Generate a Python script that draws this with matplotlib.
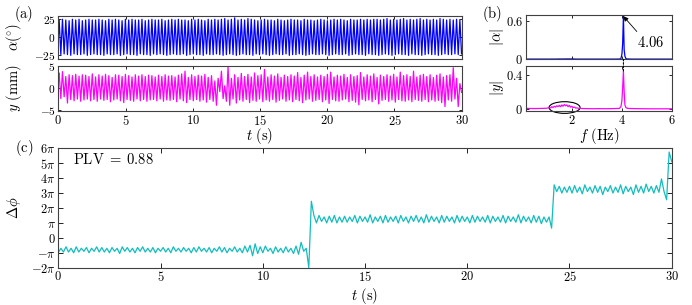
import matplotlib
matplotlib.use("Agg")
import matplotlib.pyplot as plt
import numpy as np
from matplotlib.patches import Ellipse, ConnectionPatch
from matplotlib.ticker import FuncFormatter

plt.rcParams['mathtext.fontset'] = 'cm'
plt.rcParams['font.family'] = ['DejaVu Serif']
plt.rcParams['font.size'] = 9

# ---- data ----
f_peak = 4.06  # Hz, dominant frequency

# (a) pitch angle alpha (deg): one peak and one trough per cycle
alpha_peaks = [24, 25, 24, 23, 25, 24, 25, 23, 24, 25, 24, 24,
               25, 24, 23, 25, 24, 25, 24, 23, 25, 24, 25, 24,
               24, 25, 23, 24, 25, 24, 24, 25, 23, 24, 25, 24,
               25, 24, 24, 23, 25, 24, 25, 24, 23, 25, 24, 25,
               24, 25, 26, 24, 25, 27, 24, 25, 24, 26, 25, 24,
               23, 24, 25, 24, 24, 23, 25, 24, 23, 24, 25, 24,
               24, 23, 25, 24, 24, 23, 24, 25, 24, 23, 24, 25,
               24, 25, 24, 23, 25, 24, 24, 25, 24, 25, 24, 25,
               25, 24, 25, 26, 24, 25, 24, 25, 26, 24, 25, 24,
               25, 26, 24, 25, 24, 25, 24, 26, 25, 24, 25, 24,
               25, 24]
alpha_troughs = [-24, -23, -24, -25, -23, -24, -24, -23, -25, -24, -23, -24,
                 -24, -25, -23, -24, -24, -23, -25, -24, -23, -24, -24, -25,
                 -23, -24, -24, -25, -23, -24, -23, -24, -25, -24, -23, -24,
                 -24, -23, -25, -24, -23, -24, -24, -25, -23, -24, -24, -23,
                 -24, -25, -24, -23, -24, -25, -24, -23, -24, -24, -25, -23,
                 -24, -23, -24, -25, -24, -23, -24, -24, -23, -25, -24, -24,
                 -23, -24, -25, -24, -23, -24, -24, -23, -24, -25, -24, -23,
                 -24, -24, -23, -25, -24, -23, -24, -24, -25, -23, -24, -24,
                 -25, -24, -23, -24, -25, -24, -23, -24, -24, -25, -23, -24,
                 -24, -25, -24, -23, -24, -24, -25, -24, -23, -24, -24, -23,
                 -24, -23]

# (a) heave y (mm)
y_peaks = [3.4, 3.7, 2.6, 3.0, 2.8, 3.1, 2.7, 3.0, 2.9, 2.6,
           3.2, 2.5, 3.0, 2.7, 3.1, 2.8, 2.4, 3.0, 2.9, 2.6,
           3.1, 2.8, 2.5, 3.0, 2.7, 3.0, 2.6, 2.9, 2.8, 2.5,
           2.9, 2.6, 3.0, 2.7, 2.8, 2.5, 2.9, 3.2, 3.8, 2.4,
           3.0, 2.6, 2.9, 2.7, 3.1, 2.4, 2.8, 1.6, 2.2, 3.8,
           0.5, 4.8, 2.2, 3.0, 2.4, 3.3, 2.6, 3.1, 2.5, 3.4,
           2.8, 3.0, 4.2, 2.5, 3.0, 2.7, 3.2, 2.4, 2.9, 2.6,
           3.0, 2.7, 3.5, 2.4, 2.9, 3.6, 2.6, 3.0, 2.5, 2.9,
           2.6, 3.1, 3.6, 2.5, 2.9, 2.7, 3.1, 2.4, 3.0, 2.6,
           2.8, 3.5, 2.5, 3.0, 2.7, 3.2, 2.4, 2.9, 2.6, 3.0,
           2.7, 3.1, 2.5, 3.6, 2.8, 3.0, 2.6, 3.8, 2.5, 2.9,
           3.1, 2.6, 3.0, 2.4, 2.9, 3.2, 2.5, 2.8, 3.0, 4.6,
           2.2, 1.0]
y_troughs = [-2.4, -2.0, -3.4, -2.6, -2.9, -2.5, -3.0, -2.7, -2.5, -2.9,
             -2.6, -3.0, -2.5, -2.8, -2.6, -3.1, -2.7, -2.5, -2.9, -3.3,
             -2.6, -2.8, -3.0, -2.5, -2.9, -2.6, -3.0, -2.7, -2.6, -2.9,
             -2.5, -3.0, -2.7, -2.8, -2.6, -3.1, -2.5, -2.9, -3.3, -2.6,
             -2.9, -2.6, -3.0, -2.7, -3.2, -2.6, -3.0, -3.9, -0.8, -2.4,
             -3.0, -3.9, -2.5, -3.4, -2.7, -3.0, -2.6, -3.3, -2.8, -3.0,
             -2.5, -3.1, -2.7, -3.0, -2.6, -3.2, -2.8, -2.5, -3.0, -2.7,
             -3.1, -2.6, -2.9, -3.3, -2.7, -2.5, -3.0, -2.8, -2.6, -3.1,
             -2.7, -3.5, -2.6, -2.9, -3.0, -2.7, -2.5, -3.1, -2.8, -3.2,
             -3.8, -2.6, -2.9, -2.7, -3.1, -2.6, -3.6, -2.8, -2.6, -3.0,
             -2.7, -3.2, -2.6, -2.9, -3.0, -2.7, -3.1, -2.6, -2.8, -3.0,
             -2.6, -3.1, -2.7, -3.0, -2.8, -3.3, -4.2, -2.7, -3.0, -2.5,
             -4.2, -1.0]

# (b) amplitude spectra
freq = [0.2, 0.5, 0.8, 1.0, 1.1, 1.15, 1.2, 1.25, 1.3, 1.35, 1.4, 1.45,
        1.5, 1.55, 1.6, 1.65, 1.7, 1.75, 1.8, 1.85, 1.9, 1.95, 2.0, 2.05,
        2.1, 2.15, 2.2, 2.3, 2.5, 2.8, 3.1, 3.4, 3.7, 3.9, 3.96, 4.0,
        4.03, 4.06, 4.09, 4.12, 4.16, 4.22, 4.4, 4.8, 5.2, 5.6, 6.0]
alpha_amp = [0.003, 0.003, 0.003, 0.003, 0.003, 0.003, 0.004, 0.003, 0.004, 0.003, 0.004, 0.004,
             0.005, 0.004, 0.005, 0.004, 0.005, 0.005, 0.006, 0.005, 0.006, 0.005, 0.006, 0.005,
             0.004, 0.004, 0.003, 0.003, 0.003, 0.003, 0.003, 0.003, 0.003, 0.004, 0.01, 0.08,
             0.25, 0.68, 0.15, 0.05, 0.01, 0.005, 0.003, 0.003, 0.003, 0.003, 0.003]
y_amp = [0.01, 0.008, 0.01, 0.012, 0.02, 0.015, 0.03, 0.02, 0.035, 0.025, 0.04, 0.03,
         0.045, 0.03, 0.05, 0.035, 0.055, 0.04, 0.05, 0.03, 0.045, 0.025, 0.035, 0.02,
         0.025, 0.015, 0.015, 0.01, 0.008, 0.006, 0.007, 0.006, 0.008, 0.01, 0.03, 0.1,
         0.25, 0.44, 0.2, 0.05, 0.02, 0.01, 0.008, 0.006, 0.005, 0.005, 0.005]

# (c) phase difference, in units of pi, sampled every 0.125 s
dphi = [-0.98, -0.7, -0.95, -0.6, -0.95, -0.7, -1.0, -0.6,
        -0.95, -0.7, -0.9, -0.65, -1.0, -0.7, -0.9, -0.6,
        -0.95, -0.65, -0.95, -0.7, -1.0, -0.65, -0.9, -0.7,
        -1.05, -0.6, -0.9, -0.65, -0.95, -0.7, -1.0, -0.65,
        -0.9, -0.6, -0.95, -0.7, -0.95, -0.65, -1.0, -0.7,
        -0.9, -0.65, -0.95, -0.7, -1.0, -0.6, -0.9, -0.7,
        -0.95, -0.65, -0.9, -0.7, -1.0, -0.65, -0.95, -0.6,
        -0.9, -0.7, -0.95, -0.65, -1.0, -0.7, -0.9, -0.6,
        -0.95, -0.65, -1.0, -0.7, -0.9, -0.6, -0.95, -0.7,
        -1.0, -0.55, -0.95, -0.5, -1.2, -0.4, -1.05, -0.6,
        -1.0, -0.55, -0.9, -0.7, -1.05, -0.6, -0.95, -0.7,
        -1.0, -0.6, -0.95, -0.7, -1.05, -0.55, -1.1, -0.3,
        -0.9, -0.7, -2.0, 2.45, 1.5, 1.0, 1.5, 1.1,
        1.4, 1.0, 1.45, 1.05, 1.5, 1.0, 1.4, 1.05,
        1.45, 1.05, 1.4, 1.1, 1.5, 1.0, 1.45, 1.1,
        1.4, 1.05, 1.55, 1.0, 1.4, 1.1, 1.45, 1.0,
        1.5, 1.05, 1.4, 1.1, 1.45, 1.0, 1.5, 1.1,
        1.4, 1.0, 1.45, 1.1, 1.5, 1.05, 1.4, 1.0,
        1.55, 1.05, 1.45, 1.1, 1.4, 1.0, 1.5, 1.05,
        1.45, 1.1, 1.4, 1.0, 1.5, 1.05, 1.45, 1.1,
        1.4, 1.0, 1.5, 1.05, 1.45, 1.1, 1.4, 1.05,
        1.5, 1.0, 1.45, 1.1, 1.4, 1.05, 1.5, 1.0,
        1.45, 1.1, 1.4, 1.05, 1.55, 1.0, 1.45, 1.1,
        1.4, 1.0, 1.5, 1.05, 1.45, 0.95, 1.4, 1.05,
        1.4, 0.65, 3.55, 3.1, 3.45, 3.0, 3.4, 3.05,
        3.45, 3.0, 3.5, 3.05, 3.4, 2.95, 3.55, 3.1,
        3.4, 3.0, 3.5, 3.05, 3.45, 2.9, 3.4, 3.1,
        3.5, 3.0, 3.4, 3.05, 3.55, 2.95, 3.45, 3.1,
        3.4, 2.9, 3.55, 3.05, 3.45, 3.0, 3.6, 3.1,
        3.45, 3.0, 3.5, 3.05, 3.95, 3.1, 2.55, 5.75,
        5.1]
plv = 0.88


def zigzag(peaks, troughs, start):
    vals = [start]
    for p, q in zip(peaks, troughs):
        vals += [p, q]
    t = np.arange(len(vals)) / (2 * f_peak) - 0.25 / f_peak
    t[0] = 0
    return t, np.array(vals)


t_a, alpha = zigzag(alpha_peaks, alpha_troughs, 0)
t_y, yy = zigzag(y_peaks, y_troughs, 3.0)
t_c = np.arange(len(dphi)) * 0.125

frame = '#404040'
tick_fs = 9
small_fs = 8.2  # y tick labels of the stacked small panels
lab_fs = 10.5
fig = plt.figure(figsize=(6.92, 3.05), dpi=100)

def style(ax, tl=2.5, yfs=tick_fs):
    for s in ax.spines.values():
        s.set_color(frame)
        s.set_linewidth(0.8)
    ax.tick_params(direction='in', top=True, right=True, length=tl, width=0.6,
                   colors='k', labelsize=tick_fs, pad=2)
    ax.tick_params(axis='y', labelsize=yfs)

mfmt = FuncFormatter(lambda v, p: f'${v:g}$')

# (a)
ax1 = fig.add_axes([0.0843, 0.8056, 0.5829, 0.1430])
ax1.plot(t_a, alpha, color='#0000ff', lw=0.9)
ax1.set_xlim(0, 30)
ax1.set_ylim(-30.5, 30)
ax1.set_xticks(range(0, 31, 5))
ax1.set_xticklabels([])
ax1.set_yticks([-25, 0, 25])
ax1.yaxis.set_major_formatter(mfmt)
ax1.set_ylabel(r'$\alpha(^{\circ})$', fontsize=lab_fs)
ax1.yaxis.set_label_coords(-0.085, 0.5)
style(ax1, yfs=small_fs)

ax2 = fig.add_axes([0.0843, 0.6361, 0.5829, 0.1485])
ax2.plot(t_y, yy, color='#ff00ff', lw=0.9)
ax2.set_xlim(0, 30)
ax2.set_ylim(-5.2, 5.05)
ax2.set_xticks(range(0, 31, 5))
ax2.set_yticks([-5, 0, 5])
ax2.xaxis.set_major_formatter(mfmt)
ax2.yaxis.set_major_formatter(mfmt)
ax2.set_ylabel(r'$y\ \mathrm{(mm)}$', fontsize=lab_fs)
ax2.yaxis.set_label_coords(-0.085, 0.5)
ax2.set_xlabel(r'$t\ \mathrm{(s)}$', fontsize=lab_fs)
ax2.xaxis.set_label_coords(0.5, -0.34)
style(ax2, yfs=small_fs)

# (b)
bx1 = fig.add_axes([0.7601, 0.8056, 0.2110, 0.1452])
bx1.plot(freq, alpha_amp, color='#0000ff', lw=0.9)
bx1.set_xlim(0.17, 6)
bx1.set_ylim(0, 0.7)
bx1.set_xticks([2, 4, 6])
bx1.set_xticklabels([])
bx1.set_yticks([0, 0.6])
bx1.yaxis.set_major_formatter(mfmt)
bx1.set_ylabel(r'$|\alpha|$', fontsize=lab_fs)
bx1.yaxis.set_label_coords(-0.14, 0.5)
bx1.annotate(r'$4.06$', xy=(f_peak, 0.68), xytext=(4.62, 0.26), fontsize=lab_fs,
             va='center', ha='left',
             arrowprops=dict(arrowstyle='-|>', color='k', lw=0.6,
                             mutation_scale=7, shrinkA=1, shrinkB=0,
                             relpos=(0.1, 1.0)))
style(bx1)

bx2 = fig.add_axes([0.7601, 0.6361, 0.2110, 0.1475])
bx2.plot(freq, y_amp, color='#ff00ff', lw=0.9)
bx2.set_xlim(0.17, 6)
bx2.set_ylim(-0.02, 0.5)
bx2.set_xticks([2, 4, 6])
bx2.set_yticks([0, 0.4])
bx2.xaxis.set_major_formatter(mfmt)
bx2.yaxis.set_major_formatter(mfmt)
bx2.set_ylabel(r'$|y|$', fontsize=lab_fs)
bx2.yaxis.set_label_coords(-0.14, 0.5)
bx2.set_xlabel(r'$f\ \mathrm{(Hz)}$', fontsize=lab_fs)
bx2.xaxis.set_label_coords(0.5, -0.34)
bx2.add_patch(Ellipse((1.71, 0.02), 1.24, 0.135, fill=False, ec='k', lw=0.8,
                      clip_on=False))
style(bx2)

con = ConnectionPatch(xyA=(f_peak, 0), coordsA=bx1.transData,
                      xyB=(f_peak, max(y_amp)), coordsB=bx2.transData,
                      color='k', lw=0.8, linestyle=(0, (1.5, 1.5)))
fig.add_artist(con)

# (c)
cx = fig.add_axes([0.0843, 0.1223, 0.8864, 0.3915])
cx.plot(t_c, np.array(dphi) * np.pi, color='#13bdbd', lw=0.9)
cx.set_xlim(0, 30)
cx.set_ylim(-2 * np.pi, 6 * np.pi)
cx.set_xticks(range(0, 31, 5))
cx.xaxis.set_major_formatter(mfmt)
pi_ticks = list(range(-2, 7))
pi_labels = {-2: r'$-2\pi$', -1: r'$-\pi$', 0: r'$0$', 1: r'$\pi$'}
cx.set_yticks([k * np.pi for k in pi_ticks])
cx.set_yticklabels([pi_labels.get(k, rf'${k}\pi$') for k in pi_ticks])
cx.set_ylabel(r'$\Delta\phi$', fontsize=lab_fs)
cx.yaxis.set_label_coords(-0.058, 0.5)
cx.set_xlabel(r'$t\ \mathrm{(s)}$', fontsize=lab_fs)
cx.xaxis.set_label_coords(0.5, -0.15)
cx.text(0.024, 0.91, rf'$\mathrm{{PLV}}\;=\;{plv}$', transform=cx.transAxes,
        fontsize=lab_fs, va='center', ha='left')
style(cx, tl=3.5)

fig.text(0.020, 0.955, r'$\mathrm{(a)}$', fontsize=lab_fs, va='center')
fig.text(0.697, 0.955, r'$\mathrm{(b)}$', fontsize=lab_fs, va='center')
fig.text(0.022, 0.515, r'$\mathrm{(c)}$', fontsize=lab_fs, va='center')

fig.savefig('out.png', dpi=100)
